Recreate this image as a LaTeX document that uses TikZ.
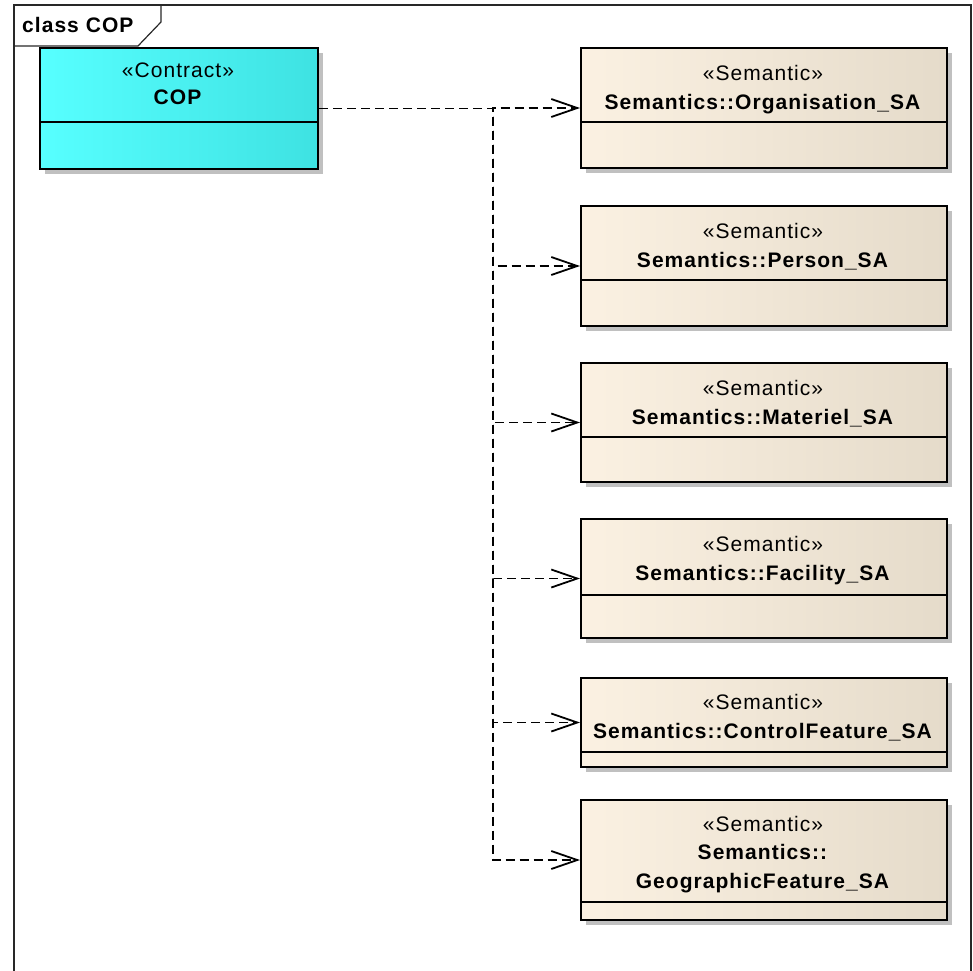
\documentclass[tikz,border=0pt]{standalone}
\usepackage{fontspec}
\setmainfont{Liberation Sans}
\newfontfamily\boxfont[LetterSpace=5]{Liberation Sans}
\usetikzlibrary{arrows.meta,shadows}
\definecolor{copcyan}{RGB}{87,255,255}
\definecolor{copcyanR}{RGB}{62,226,226}
\definecolor{semL}{RGB}{251,241,226}
\definecolor{semR}{RGB}{229,219,202}
\definecolor{shadowgray}{RGB}{192,192,192}
\definecolor{framegray}{RGB}{40,40,40}
\begin{document}
\begin{tikzpicture}[x=1pt,y=-1pt]
    \tikzstyle{classbox}=[rectangle, draw=black, line width=2pt, anchor=north west, inner sep=0pt,
      drop shadow={shadow xshift=5pt, shadow yshift=-5pt, fill=shadowgray, opacity=1}]
    \tikzstyle{semantic}=[classbox, minimum width=366pt, minimum height=120pt, left color=semL, middle color=semL!60!semR, right color=semR]
    \tikzstyle{contract}=[classbox, minimum width=278pt, minimum height=121pt, left color=copcyan, middle color=copcyan, right color=copcyanR]
    \tikzstyle{boxtext}=[anchor=north, align=center, inner sep=0pt, font=\boxfont\fontsize{21}{29.5}\selectfont]
    \tikzstyle{sepline}=[line width=1.8pt]
    \tikzstyle{dep}=[line width=1.8pt, dash pattern=on 9pt off 5pt, -{Straight Barb[length=26pt,width=18pt]}]
    \useasboundingbox (0,0) rectangle (973,970);
    % frame
    \draw[framegray, line width=1.8pt] (14,985) -- (14,5) -- (971,5) -- (971,985);
    \draw[framegray, line width=1.2pt] (14,46) -- (138,46) -- (161,22) -- (161,5);
    \node[anchor=west, inner sep=0pt, font=\boxfont\fontsize{21}{24}\selectfont] (title) at (22,25) {\textbf{class COP}};
    % contract
    \node[contract] (cop) at (39,47) {};
    \draw[sepline] (cop.west |- 0,122) -- (cop.east |- 0,122);
    \node[boxtext, font=\boxfont\fontsize{21}{27}\selectfont] (coptext) at (178,63) {«Contract»\\\textbf{COP}};
    % semantic classes
    \node[semantic] (sa1) at (580,47) {};
    \node[semantic] (sa2) at (580,205) {};
    \node[semantic, minimum height=119pt] (sa3) at (580,362) {};
    \node[semantic, minimum height=119pt] (sa4) at (580,518) {};
    \node[semantic, minimum height=89pt] (sa5) at (580,677) {};
    \node[semantic] (sa6) at (580,799) {};
    \draw[sepline] (sa1.west |- 0,122) -- (sa1.east |- 0,122);
    \draw[sepline] (sa2.west |- 0,280) -- (sa2.east |- 0,280);
    \draw[sepline] (sa3.west |- 0,437) -- (sa3.east |- 0,437);
    \draw[sepline] (sa4.west |- 0,595) -- (sa4.east |- 0,595);
    \draw[sepline] (sa5.west |- 0,752) -- (sa5.east |- 0,752);
    \draw[sepline] (sa6.west |- 0,902) -- (sa6.east |- 0,902);
    \node[boxtext] (sa1text) at (763,65) {«Semantic»\\\textbf{Semantics::Organisation\_SA}};
    \node[boxtext] (sa2text) at (763,223) {«Semantic»\\\textbf{Semantics::Person\_SA}};
    \node[boxtext] (sa3text) at (763,380) {«Semantic»\\\textbf{Semantics::Materiel\_SA}};
    \node[boxtext] (sa4text) at (763,536) {«Semantic»\\\textbf{Semantics::Facility\_SA}};
    \node[boxtext] (sa5text) at (763,694) {«Semantic»\\\textbf{Semantics::ControlFeature\_SA}};
    \node[boxtext, font=\boxfont\fontsize{21}{28.5}\selectfont] (sa6text) at (763,816) {«Semantic»\\\textbf{Semantics::}\\\textbf{GeographicFeature\_SA}};
    % dependencies
    \coordinate (trunk) at (493,109);
    \foreach \i in {1,...,6}
      \draw[dep] (cop.east) -- (cop.east -| trunk) |- (sa\i.west);
\end{tikzpicture}
\end{document}
